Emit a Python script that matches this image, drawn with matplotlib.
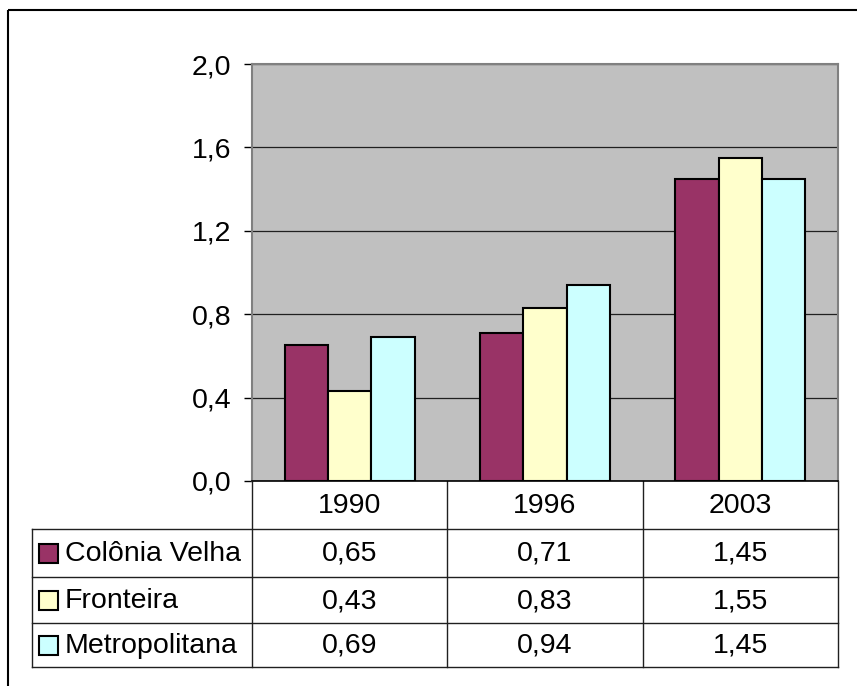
import matplotlib
matplotlib.use("Agg")
import matplotlib.pyplot as plt
from matplotlib.patches import Rectangle
import numpy as np

plt.rcParams['font.family'] = ['Liberation Sans', 'DejaVu Sans']

anos = ["1990", "1996", "2003"]
series = ["Colônia Velha", "Fronteira", "Metropolitana"]
colonia = [0.65, 0.71, 1.45]
fronteira = [0.43, 0.83, 1.55]
metro = [0.69, 0.94, 1.45]
cores = ["#993366", "#FFFFCC", "#CCFFFF"]
yticks = [0.0, 0.4, 0.8, 1.2, 1.6, 2.0]

W, H = 857, 686
fig = plt.figure(figsize=(W / 100, H / 100), dpi=100)

# pixel-space overlay for frame and data table
bg = fig.add_axes([0, 0, 1, 1])
bg.set_xlim(0, W)
bg.set_ylim(H, 0)
bg.axis("off")

# plot area (pixels)
L, R, T, B = 252, 838, 64, 481
ax = fig.add_axes([L / W, 1 - B / H, (R - L) / W, (B - T) / H])
ax.set_facecolor("#C0C0C0")

x = np.arange(len(anos))
w = 1 / 4.5
for k, vals in enumerate([colonia, fronteira, metro]):
    ax.bar(x + (k - 1) * w, vals, width=w, color=cores[k], edgecolor="black",
           linewidth=1.5, zorder=3)

fs = 20.5
ax.set_xlim(-0.5, len(anos) - 0.5)
ax.set_ylim(0, 2.0)
ax.set_yticks(yticks)
ax.set_yticklabels([f"{v:.1f}".replace(".", ",") for v in yticks], fontsize=fs)
ax.tick_params(axis="y", length=6, width=1, pad=9, direction="out", color="black")
ax.set_xticks([])
ax.yaxis.grid(True, color="#202020", linewidth=0.9, zorder=1)
for s in ["top", "right", "left"]:
    ax.spines[s].set_color("#808080")
    ax.spines[s].set_linewidth(1.5)
ax.spines["bottom"].set_color("black")
ax.spines["bottom"].set_linewidth(1.2)

# outer frame (clipped on the right/bottom in the original)
bg.add_patch(Rectangle((8, 10), W + 20, H + 20, fill=False, edgecolor="black", linewidth=1.5))

# data table
tx0 = 32
rows = [481, 529, 577, 623, 667]
col_w = (R - L) / len(anos)
cols = [L + i * col_w for i in range(len(anos) + 1)]
lc = "#202020"
for yy in rows[1:]:
    bg.plot([tx0, R], [yy, yy], color=lc, lw=1)
bg.plot([tx0, tx0], [rows[1], rows[-1]], color=lc, lw=1)
for cx in cols:
    bg.plot([cx, cx], [rows[0], rows[-1]], color=lc, lw=1)

for i, a in enumerate(anos):
    bg.text(cols[i] + col_w / 2, (rows[0] + rows[1]) / 2 + 1, a, ha="center", va="center", fontsize=fs)
for r, (nome, vals) in enumerate(zip(series, [colonia, fronteira, metro])):
    yc = (rows[r + 1] + rows[r + 2]) / 2
    bg.add_patch(Rectangle((39, yc - 9.5), 19, 19, facecolor=cores[r], edgecolor="black", linewidth=1.5))
    bg.text(65, yc + 1, nome, ha="left", va="center", fontsize=fs)
    for i, v in enumerate(vals):
        bg.text(cols[i] + col_w / 2, yc + 1, f"{v:.2f}".replace(".", ","), ha="center", va="center", fontsize=fs)

fig.savefig("out.png", dpi=100)
